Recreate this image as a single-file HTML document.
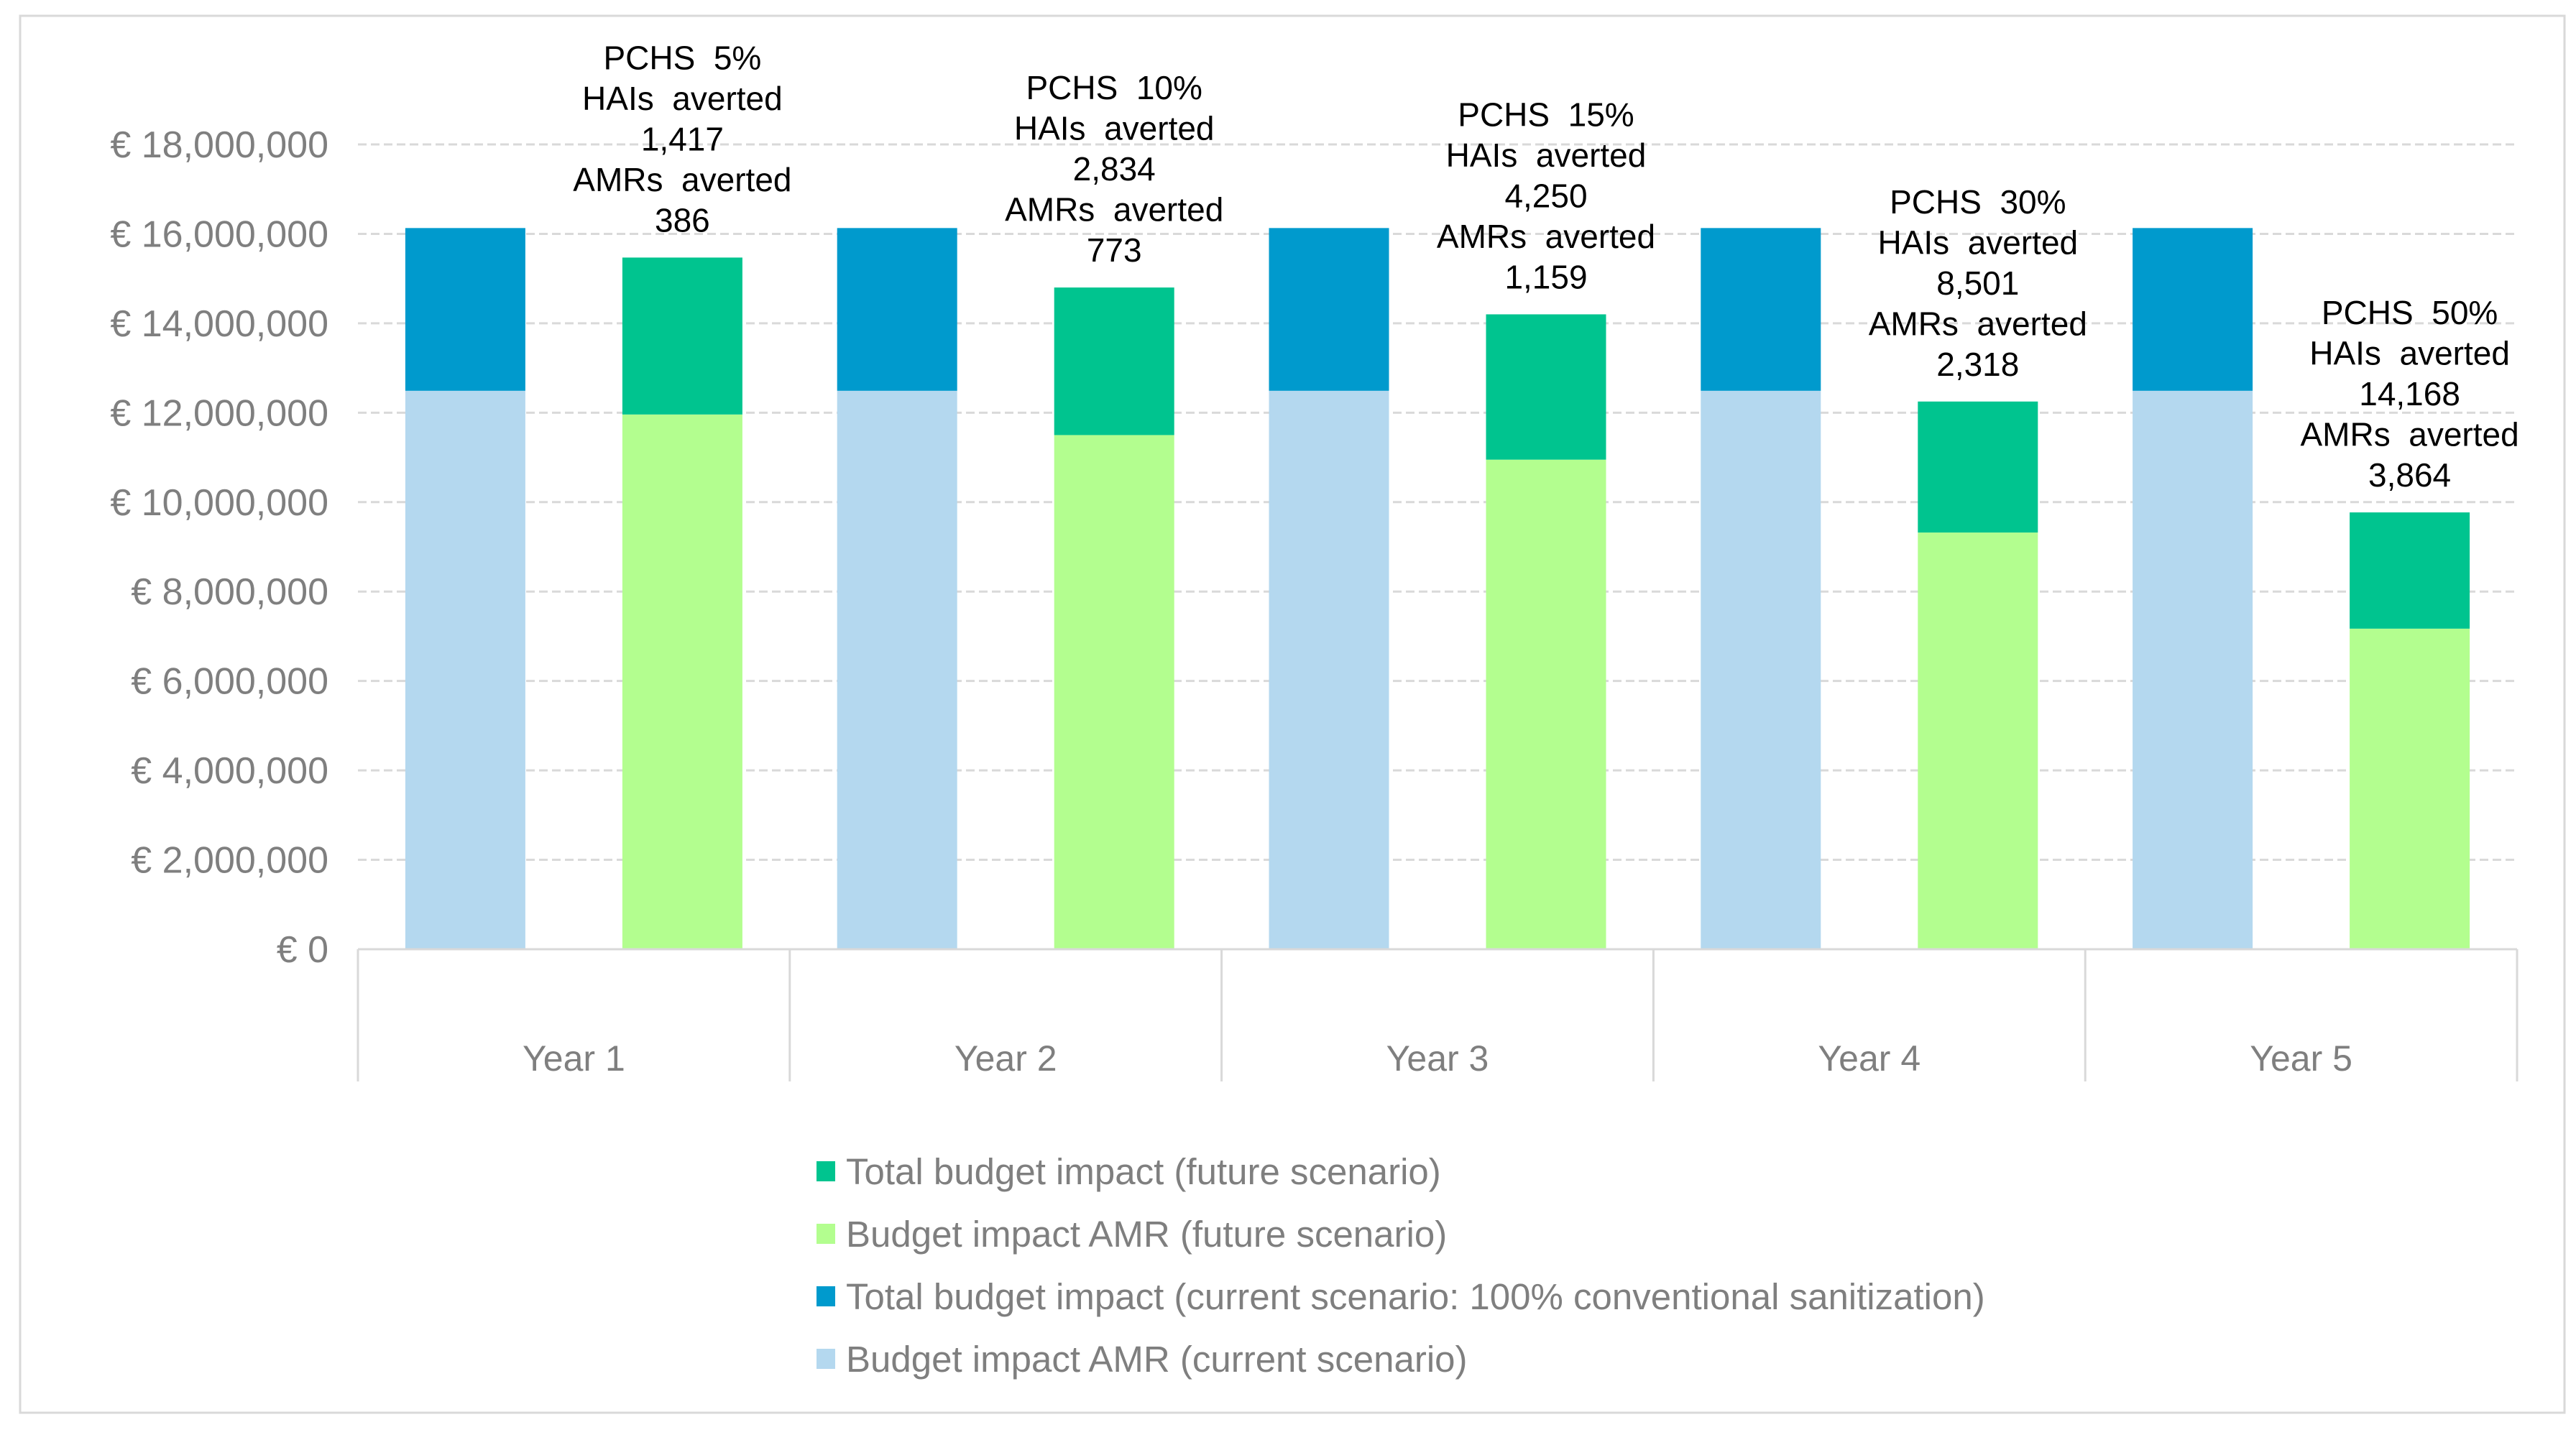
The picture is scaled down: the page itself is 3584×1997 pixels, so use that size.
<!DOCTYPE html>
<html><head><meta charset="utf-8">
<style>
html,body{margin:0;padding:0;background:#fff;}
svg{display:block;font-family:"Liberation Sans",Arial,sans-serif;}
</style></head>
<body>
<svg id="chart" width="3584" height="1997" viewBox="0 0 3584 1997" xmlns="http://www.w3.org/2000/svg">
<rect x="28" y="22" width="3540" height="1944" fill="#fff" stroke="#d9d9d9" stroke-width="3"/>
<g id="grid"></g><g id="bars"></g><g id="axes"></g><g id="annots"></g><g id="legend"></g>
</svg>
<script>
const categories = ["Year 1","Year 2","Year 3","Year 4","Year 5"];
const currentAMR = [12490000,12490000,12490000,12490000,12490000];
const currentTotal = [16130000,16130000,16130000,16130000,16130000];
const futureAMR = [11960000,11500000,10950000,9320000,7170000];
const futureTotal = [15470000,14800000,14200000,12250000,9770000];
const pchs = ["5%","10%","15%","30%","50%"];
const haisAverted = ["1,417","2,834","4,250","8,501","14,168"];
const amrsAverted = ["386","773","1,159","2,318","3,864"];
const yTicks = [0,2000000,4000000,6000000,8000000,10000000,12000000,14000000,16000000,18000000];
const yTickLabels = ["€ 0","€ 2,000,000","€ 4,000,000","€ 6,000,000","€ 8,000,000","€ 10,000,000","€ 12,000,000","€ 14,000,000","€ 16,000,000","€ 18,000,000"];

const NS="http://www.w3.org/2000/svg";
const plotL=498, plotR=3502, y0=1321, yTop=201, yMax=18000000;
const catW=(plotR-plotL)/categories.length, barW=167, off=151;
function y(v){return y0-(v/yMax)*(y0-yTop);}
function xc(i){return plotL+catW*(i+0.5);}
function mk(tag,attrs,parent,text){const e=document.createElementNS(NS,tag);for(const k in attrs)e.setAttribute(k,attrs[k]);if(text!==undefined)e.textContent=text;parent.appendChild(e);return e;}

const grid=document.getElementById('grid');
yTicks.forEach((t,i)=>{
  if(t>0){
    const l=mk('line',{x1:plotL,x2:plotR,y1:y(t),y2:y(t),stroke:'#d9d9d9','stroke-width':3,'stroke-dasharray':'12,6'},grid);
    
    
  }
  const tx=mk('text',{x:457,y:y(t)+18,'text-anchor':'end','font-size':52,fill:'#7f7f7f'},grid,yTickLabels[i]);
  
  
});

const bars=document.getElementById('bars');
function bar(x,v0,v1,color,name){
  const r=mk('rect',{x:x-barW/2,y:y(v1),width:barW,height:y(v0)-y(v1),fill:color},bars);
  
  
}
categories.forEach((c,i)=>{
  bar(xc(i)-off,0,currentAMR[i],'#b4d8ef','bar-current-amr');
  bar(xc(i)-off,currentAMR[i],currentTotal[i],'#009acd','bar-current-total');
  bar(xc(i)+off,0,futureAMR[i],'#b3fe8f','bar-future-amr');
  bar(xc(i)+off,futureAMR[i],futureTotal[i],'#00c48f','bar-future-total');
});

const axes=document.getElementById('axes');
const ax=mk('line',{x1:plotL,x2:plotR,y1:y0,y2:y0,stroke:'#d9d9d9','stroke-width':3},axes);


for(let i=0;i<=categories.length;i++){
  const xx=plotL+catW*i;
  const s=mk('line',{x1:xx,x2:xx,y1:y0,y2:1505,stroke:'#d9d9d9','stroke-width':3},axes);
  
  
}
categories.forEach((c,i)=>{
  const t=mk('text',{x:xc(i),y:1490,'text-anchor':'middle','font-size':50,fill:'#7f7f7f'},axes,c);
  
  
});

const an=document.getElementById('annots');
categories.forEach((c,i)=>{
  const lines=["PCHS  "+pchs[i],"HAIs  averted",haisAverted[i],"AMRs  averted",amrsAverted[i]];
  const base=y(futureTotal[i])-36;
  const g=mk('g',{},an);
  
  
  lines.forEach((ln,k)=>{
    const t=mk('text',{x:xc(i)+off,y:base-(4-k)*56.5,'text-anchor':'middle','font-size':46,fill:'#000'},g,ln);
    t.style.whiteSpace='pre';
  });
});

const legendItems=[["Total budget impact (future scenario)","#00c48f"],["Budget impact AMR (future scenario)","#b3fe8f"],["Total budget impact (current scenario: 100% conventional sanitization)","#009acd"],["Budget impact AMR (current scenario)","#b4d8ef"]];
const lg=document.getElementById('legend');
legendItems.forEach((it,k)=>{
  const cy=1630+k*87;
  const g=mk('g',{},lg);
  
  
  mk('rect',{x:1136,y:cy-14,width:26,height:28,fill:it[1]},g);
  mk('text',{x:1177,y:cy+18,'font-size':51,fill:'#7f7f7f'},g,it[0]);
});
</script>
</body></html>
